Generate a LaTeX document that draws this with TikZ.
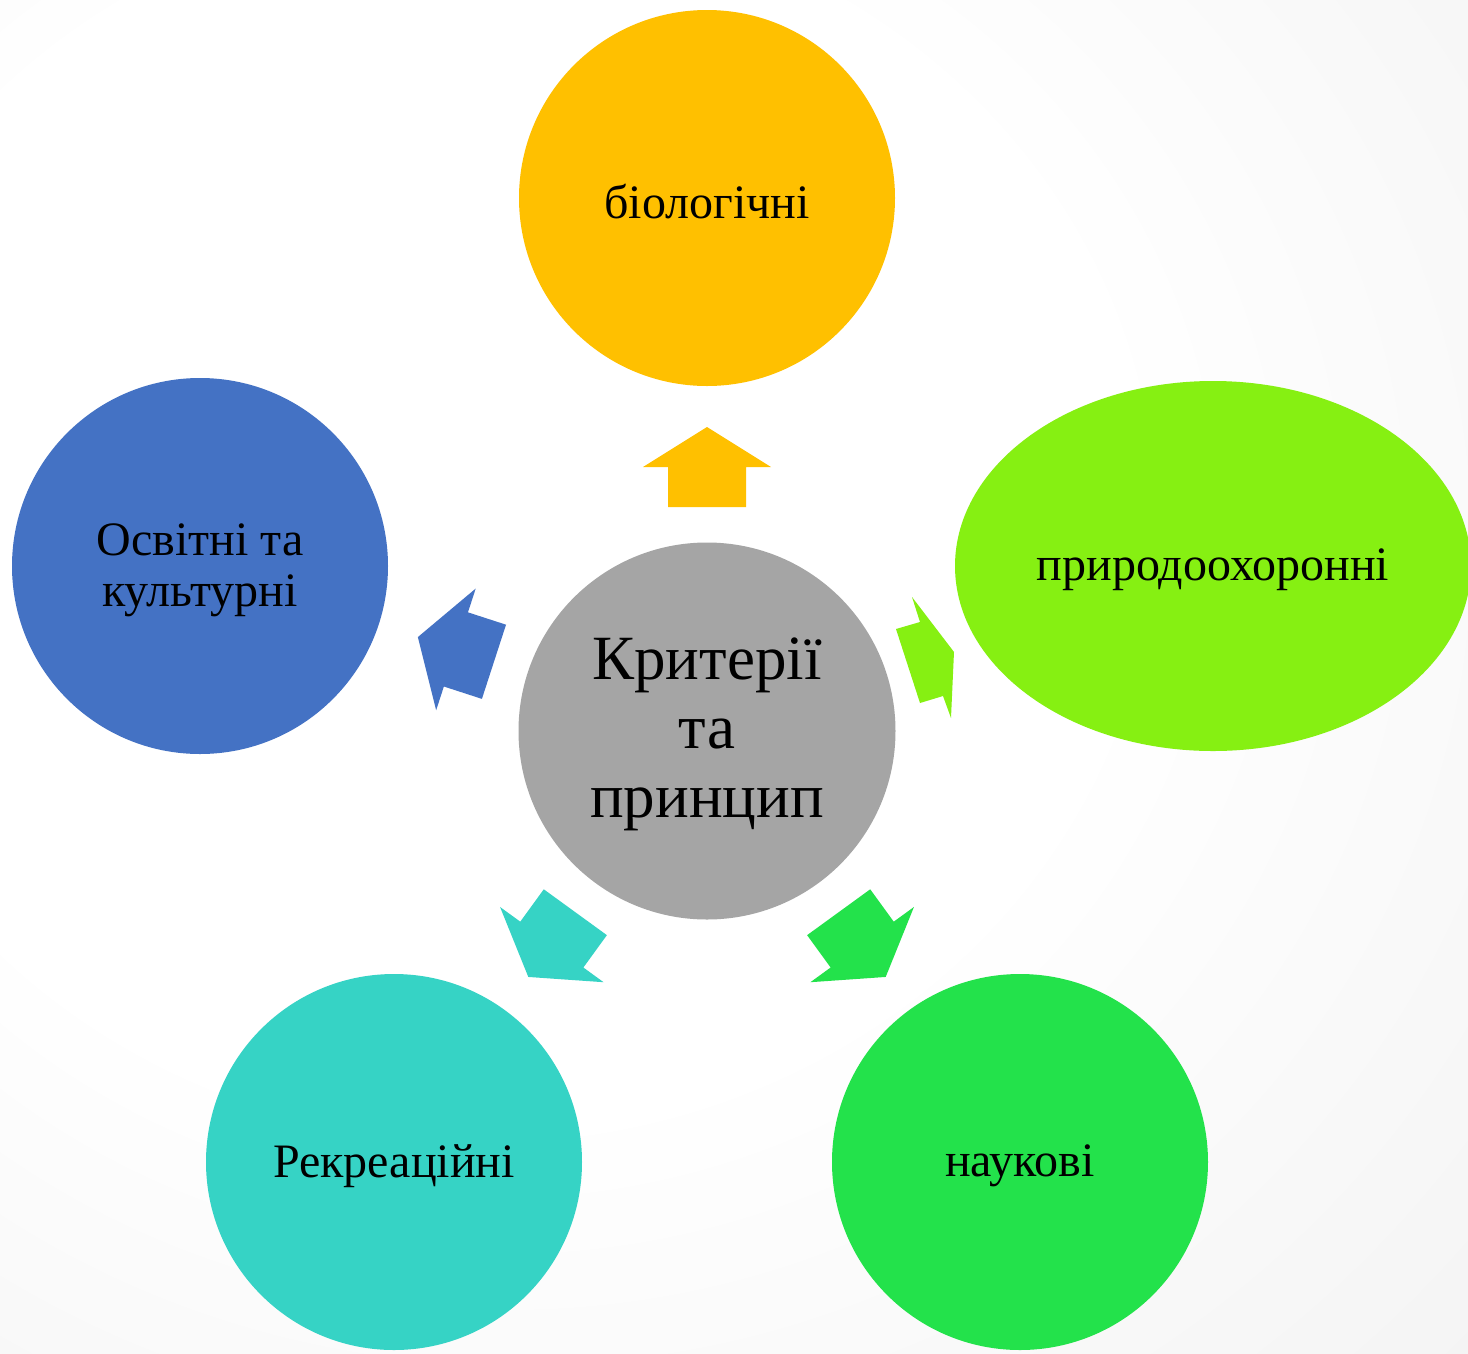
\documentclass[tikz,border=0pt]{standalone}
\usepackage{fontspec}
\setmainfont{Liberation Serif}
\usetikzlibrary{shapes.geometric}
\definecolor{cgold}{HTML}{FFC000}
\definecolor{cblue}{HTML}{4472C4}
\definecolor{clime}{HTML}{86F012}
\definecolor{cteal}{HTML}{36D3C5}
\definecolor{cgreen}{HTML}{23E24B}
\definecolor{cgray}{HTML}{A5A5A5}
\definecolor{bgouter}{HTML}{DADADA}
\definecolor{bgmid}{HTML}{F0F0F0}
\pgfdeclareradialshading{bgshade}{\pgfpoint{-12bp}{8bp}}{color(0bp)=(white); color(22bp)=(white); color(50bp)=(bgmid); color(80bp)=(bgouter)}
\tikzset{
  bubble/.style={circle, minimum size=376pt, inner sep=0pt},
  hub/.style={circle, minimum size=377pt, inner sep=0pt, fill=cgray},
  txt/.style={inner sep=0pt, text=black, font=\fontsize{48}{51}\selectfont, align=center},
  hubtxt/.style={inner sep=0pt, text=black, font=\fontsize{63}{69}\selectfont, align=center}
}
\begin{document}
\begin{tikzpicture}[x=1pt,y=-1pt]
\shade[shading=bgshade] (0,0) rectangle (1468,1353);
\useasboundingbox (0,0) rectangle (1468,1353);
\node[hub] (c) at (707,731) {};
\node[bubble, fill=cgold] (top) at (707,198) {};
\node[bubble, fill=cblue] (left) at (200,566) {};
\node[ellipse, minimum width=516pt, minimum height=370pt, inner sep=0pt, fill=clime] (right) at (1213,566) {};
\node[bubble, fill=cteal] (bl) at (394,1162) {};
\node[bubble, fill=cgreen] (br) at (1020,1162) {};
\node[hubtxt] (ct) at ([yshift=-3pt]c.center) {Критерії\\та\\принцип};
\node[txt] (topt) at ([yshift=-4pt]top.center) {біологічні};
\node[txt] (leftt) at ([yshift=-4pt]left.center) {Освітні та\\культурні};
\node[txt] (rightt) at ([yshift=-4pt]right.center) {природоохоронні};
\node[txt] (blt) at ([yshift=-4pt]bl.center) {Рекреаційні};
\node[txt] (brt) at ([yshift=-4pt]br.center) {наукові};
\foreach \ang/\col in {0/cgold, 72/cblue, 144/cteal, 216/cgreen}{
  \begin{scope}[shift={(c.center)}, rotate=\ang]
    \fill[\col] (-39,-224) -- (-39,-264) -- (-64,-264) -- (0,-304) -- (64,-264) -- (39,-264) -- (39,-224) -- cycle;
  \end{scope}
}
\fill[clime] (912,597) -- (954,652) -- (951,718) -- (943,696) -- (920,703) -- (896,629) -- (920,622) -- cycle;
\end{tikzpicture}
\end{document}
